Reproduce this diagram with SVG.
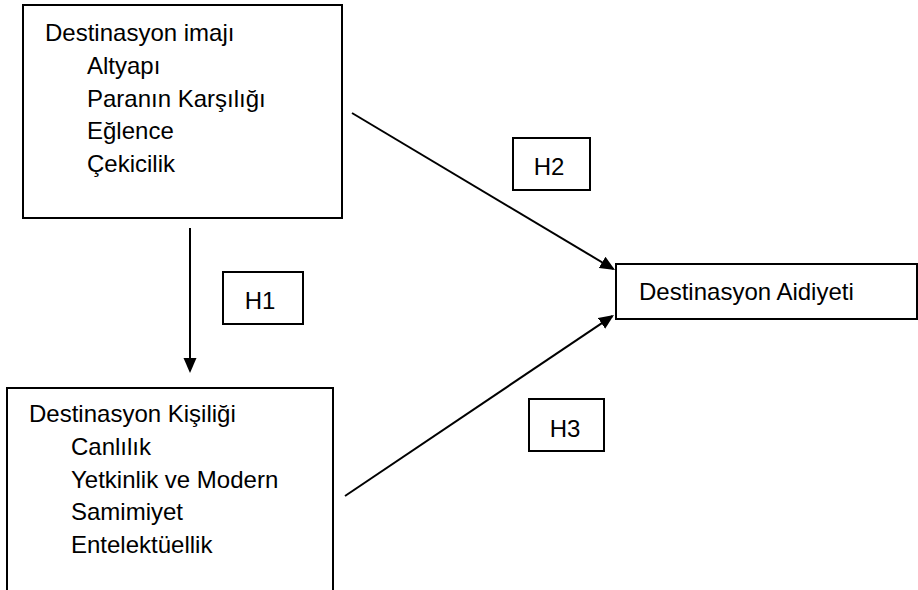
<svg xmlns="http://www.w3.org/2000/svg" width="918" height="590" viewBox="0 0 918 590">
  <style>
    .box { fill: #ffffff; stroke: #000000; stroke-width: 2; }
    .txt { font-family: "Liberation Sans", Arial, sans-serif; font-size: 24px; fill: #000000; }
    .mid { text-anchor: middle; }
    .conn { stroke: #000000; stroke-width: 2; fill: none; marker-end: url(#arrow); }
  </style>
  <defs>
    <marker id="arrow" markerUnits="userSpaceOnUse" markerWidth="16" markerHeight="14" refX="13" refY="7" orient="auto">
      <path d="M0,0.5 L15,7 L0,13.5 z" fill="#000000"/>
    </marker>
  </defs>
  <rect width="918" height="590" fill="#ffffff"/>

  <g id="connectors">
    <line class="conn" x1="190" y1="228" x2="190" y2="371"/>
    <line class="conn" x1="352" y1="113" x2="613.3" y2="269"/>
    <line class="conn" x1="345" y1="496" x2="612.3" y2="316.1"/>
  </g>

  <g id="destinasyon-imaji">
    <rect class="box" x="23" y="5" width="319" height="213"/>
    <text class="txt" x="45" y="41">Destinasyon imajı</text>
    <text class="txt" x="87" y="74">Altyapı</text>
    <text class="txt" x="87" y="106.5">Paranın Karşılığı</text>
    <text class="txt" x="87" y="139">Eğlence</text>
    <text class="txt" x="87" y="172">Çekicilik</text>
  </g>

  <g id="destinasyon-kisiligi">
    <rect class="box" x="7" y="388" width="326" height="220"/>
    <text class="txt" x="29" y="422">Destinasyon Kişiliği</text>
    <text class="txt" x="71" y="455">Canlılık</text>
    <text class="txt" x="71" y="487.5">Yetkinlik ve Modern</text>
    <text class="txt" x="71" y="520">Samimiyet</text>
    <text class="txt" x="71" y="552.5">Entelektüellik</text>
  </g>

  <g id="destinasyon-aidiyeti">
    <rect class="box" x="616" y="264" width="301" height="55"/>
    <text class="txt" x="639" y="300">Destinasyon Aidiyeti</text>
  </g>

  <g id="h1">
    <rect class="box" x="223" y="272" width="80" height="52"/>
    <text class="txt mid" x="260" y="309">H1</text>
  </g>

  <g id="h2">
    <rect class="box" x="513" y="138" width="77" height="52"/>
    <text class="txt mid" x="549" y="175">H2</text>
  </g>

  <g id="h3">
    <rect class="box" x="529" y="399" width="75" height="52"/>
    <text class="txt mid" x="565" y="437">H3</text>
  </g>
</svg>
